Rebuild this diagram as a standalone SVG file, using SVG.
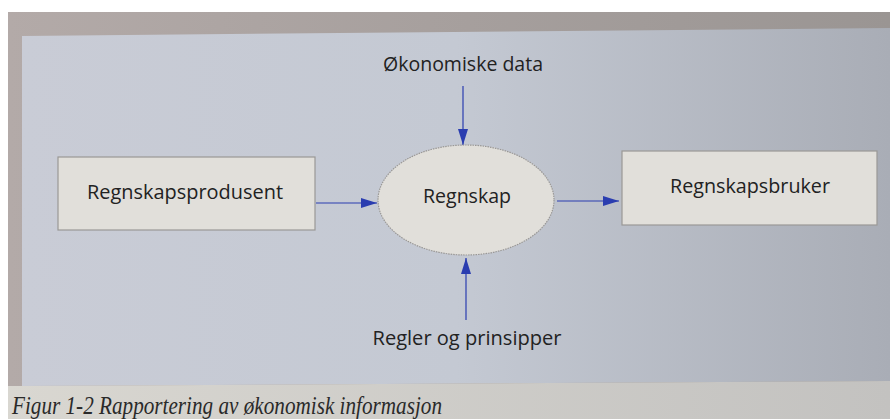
<svg xmlns="http://www.w3.org/2000/svg" width="890" height="419" viewBox="0 0 890 419">
  <defs>
    <linearGradient id="panelGrad" x1="0" y1="0" x2="1" y2="0">
      <stop offset="0" stop-color="#c9ccd6"/>
      <stop offset="0.5" stop-color="#c4c9d3"/>
      <stop offset="1" stop-color="#a9adb6"/>
    </linearGradient>
    <linearGradient id="topGrad" x1="0" y1="0" x2="1" y2="0">
      <stop offset="0" stop-color="#b3aaa8"/>
      <stop offset="1" stop-color="#9a9593"/>
    </linearGradient>
    <linearGradient id="capGrad" x1="0" y1="0" x2="1" y2="0">
      <stop offset="0" stop-color="#d9d7d1"/>
      <stop offset="1" stop-color="#c3c2c0"/>
    </linearGradient>
    <marker id="arrow" viewBox="0 0 16 10" refX="16" refY="5" markerWidth="16" markerHeight="10" markerUnits="userSpaceOnUse" orient="auto">
      <path d="M0,0 L16,5 L0,10 Z" fill="#2a3db0"/>
    </marker>
    <style>
      .lbl { font-family: "Open Sans", "Noto Sans", "Liberation Sans", sans-serif; font-size: 20px; fill: #222222; }
      .node { fill: #e1dfda; stroke: #9a9896; stroke-width: 1.2; }
      .conn { stroke: #2a3db0; stroke-width: 1.2; fill: none; marker-end: url(#arrow); }
      .cap { font-family: "Liberation Serif", serif; font-style: italic; font-size: 25px; fill: #2a2a2a; }
    </style>
  </defs>

  <!-- background / photo page -->
  <rect x="0" y="0" width="890" height="419" fill="#ffffff"/>
  <polygon points="8,12 890,12 890,419 8,419" fill="url(#topGrad)"/>
  <polygon points="22,36 890,28 890,381 22,386" fill="url(#panelGrad)"/>
  <polygon points="8,386 22,386 890,381 890,419 8,419" fill="url(#capGrad)"/>

  <g id="connectors">
    <line class="conn" x1="463" y1="86" x2="463" y2="145"/>
    <line class="conn" x1="316" y1="203" x2="377" y2="203"/>
    <line class="conn" x1="557" y1="201" x2="619" y2="201"/>
    <line class="conn" x1="466" y1="320" x2="466" y2="258"/>
  </g>

  <g id="node-produsent">
    <rect class="node" x="58" y="157" width="257" height="73"/>
    <text class="lbl" x="185" y="199" text-anchor="middle" textLength="196" lengthAdjust="spacingAndGlyphs">Regnskapsprodusent</text>
  </g>

  <g id="node-regnskap">
    <ellipse class="node" cx="466" cy="200" rx="88" ry="55" stroke-dasharray="1.5 1"/>
    <text class="lbl" x="467" y="203" text-anchor="middle" textLength="88" lengthAdjust="spacingAndGlyphs">Regnskap</text>
  </g>

  <g id="node-bruker">
    <rect class="node" x="622" y="151" width="255" height="74"/>
    <text class="lbl" x="750" y="193" text-anchor="middle" textLength="160" lengthAdjust="spacingAndGlyphs">Regnskapsbruker</text>
  </g>

  <g id="node-data">
    <text class="lbl" x="463" y="71" text-anchor="middle" textLength="160" lengthAdjust="spacingAndGlyphs">Økonomiske data</text>
  </g>

  <g id="node-regler">
    <text class="lbl" x="467" y="345" text-anchor="middle" textLength="189" lengthAdjust="spacingAndGlyphs">Regler og prinsipper</text>
  </g>

  <text class="cap" x="12" y="414" textLength="430" lengthAdjust="spacingAndGlyphs">Figur 1-2 Rapportering av økonomisk informasjon</text>
</svg>
